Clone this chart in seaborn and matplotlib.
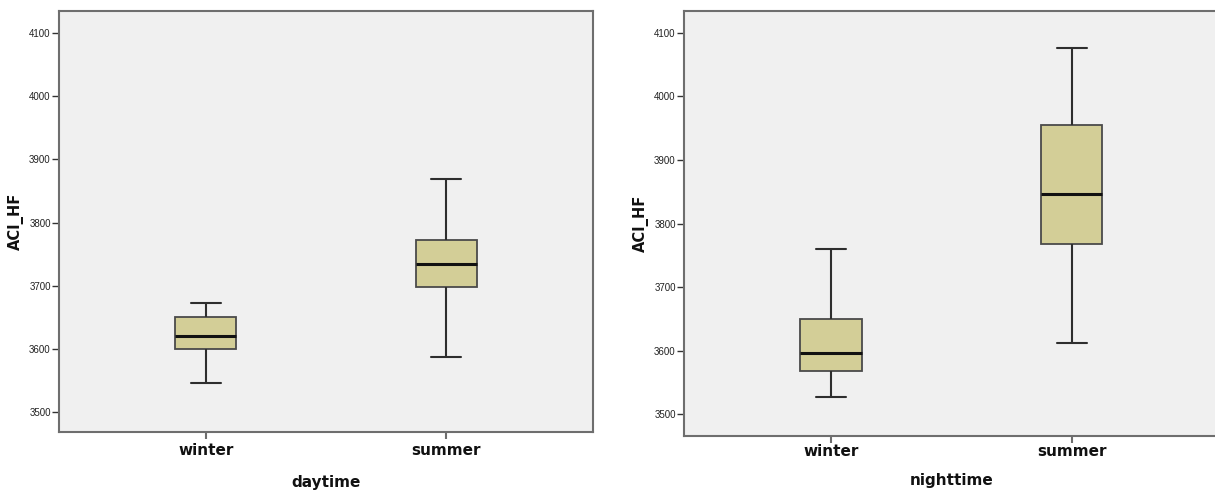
import numpy as np
import pandas as pd
import seaborn as sns
import matplotlib.pyplot as plt

# Five-number summaries (min, Q1, median, Q3, max) of ACI_HF per season
seasons = ["winter", "summer"]
day_winter = [3546, 3599, 3620, 3650, 3672]
day_summer = [3587, 3698, 3734, 3772, 3869]
night_winter = [3527, 3568, 3596, 3650, 3760]
night_summer = [3612, 3768, 3846, 3955, 4076]
y_ticks = [3500, 3600, 3700, 3800, 3900, 4000, 4100]

sns.set_theme(style="white")
plt.rcParams["font.family"] = ["DejaVu Sans"]

BOX = "#d3ce97"
BG = "#f0f0f0"
SPINE = "#6e6e6e"


def make_frame(winter, summer):
    return pd.DataFrame({
        "season": ["winter"] * len(winter) + ["summer"] * len(summer),
        "ACI_HF": winter + summer,
    })


fig = plt.figure(figsize=(12.15, 4.91), dpi=100)
ax_day = fig.add_axes([0.0486, 0.1202, 0.4395, 0.8574])
ax_night = fig.add_axes([0.5630, 0.1120, 0.4400, 0.8656])

panels = [
    (ax_day, make_frame(day_winter, day_summer), "daytime",
     (3468.4, 4134.8), 3, 12),
    (ax_night, make_frame(night_winter, night_summer), "nighttime",
     (3465.4, 4134.6), 1, 10),
]

for ax, df, xlabel, ylim, tick_pad, label_pad in panels:
    ax.set_facecolor(BG)
    sns.boxplot(
        data=df, x="season", y="ACI_HF", order=seasons, ax=ax,
        color=BOX, width=0.254, whis=(0, 100), showfliers=False,
        boxprops=dict(facecolor=BOX, edgecolor="#4a4a4a", linewidth=1.3),
        whiskerprops=dict(color="#2e2e2e", linewidth=1.5),
        capprops=dict(color="#2e2e2e", linewidth=1.5),
        medianprops=dict(color="#111111", linewidth=2.2),
        capwidths=0.125,
    )
    ax.set_xlim(-0.611, 1.611)
    ax.set_ylim(*ylim)
    ax.set_yticks(y_ticks)
    ax.set_yticklabels([str(v) for v in y_ticks], fontsize=7,
                       family="Liberation Sans", color="#222222")
    ax.set_xticks([0, 1])
    ax.set_xticklabels(seasons, fontsize=11, fontweight="bold", color="#111111")
    ax.tick_params(axis="y", which="major", left=True, length=5, width=1,
                   color="#333333", pad=1)
    ax.tick_params(axis="x", which="major", bottom=True, length=5, width=1.5,
                   color=SPINE, pad=tick_pad)
    ax.set_xlabel(xlabel, fontsize=11, fontweight="bold", color="#111111",
                  labelpad=label_pad)
    ax.set_ylabel("ACI_HF", fontsize=10.5, fontweight="bold", color="#111111",
                  labelpad=4)
    for side in ["left", "bottom", "top", "right"]:
        ax.spines[side].set_color(SPINE)
        ax.spines[side].set_linewidth(1.5)
    ax.grid(False)

fig.savefig("out.png", dpi=100, facecolor="white")
